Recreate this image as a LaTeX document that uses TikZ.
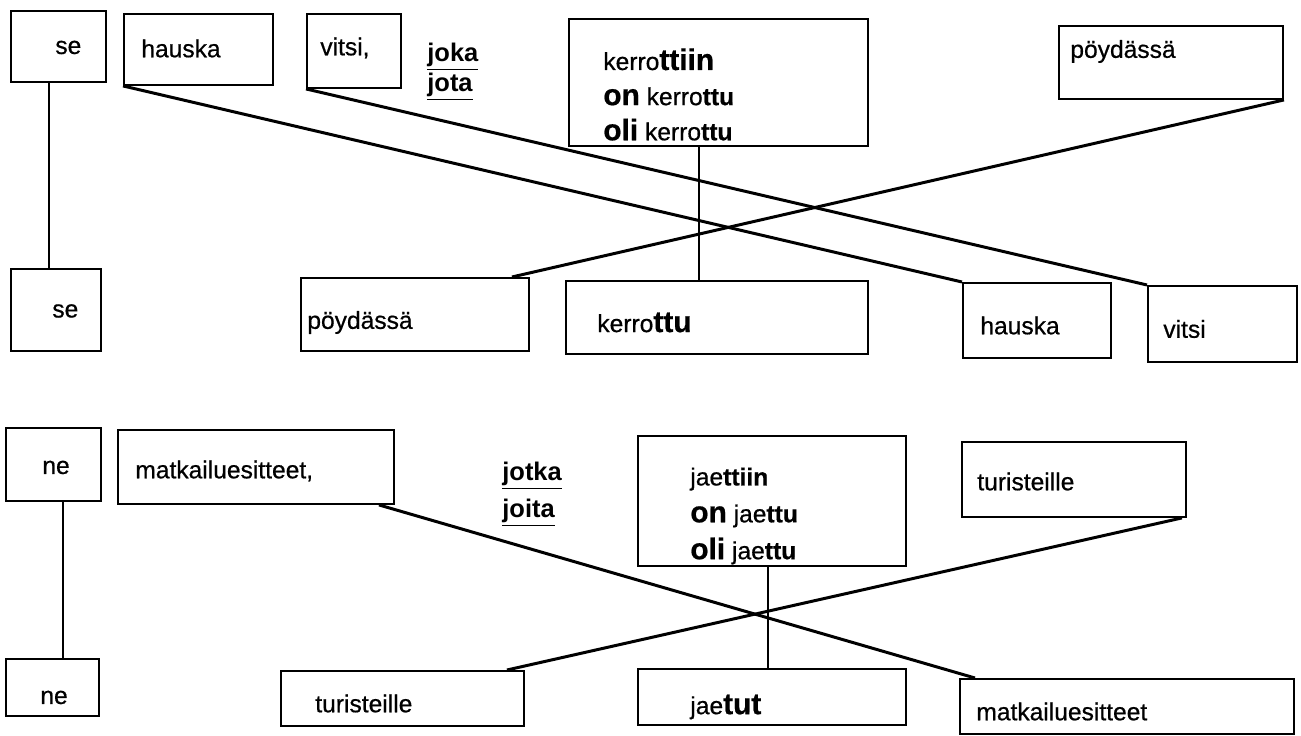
\documentclass[tikz,border=0pt]{standalone}
\usepackage{fontspec}
\setmainfont{Liberation Sans}
\newcommand\bigbold[1]{{\bfseries\fontsize{17}{20}\selectfont #1}}

\begin{document}
\begin{tikzpicture}[
    x=0.02cm,
    y=-0.02cm,
    box/.style={
        draw,
        line width=1.1pt,
        anchor=north west,
        inner sep=0pt
    },
    word/.style={
        anchor=west,
        align=left,
        inner sep=0pt,
        font=\fontsize{14}{20}\selectfont\addfontfeature{FakeBold=0.6}
    },
    pron/.style={
        anchor=west,
        align=left,
        inner sep=0pt,
        font=\fontsize{14.5}{17}\selectfont\bfseries
    },
    link/.style={
        line width=1.7pt
    },
    stem/.style={
        line width=0.9pt
    }
]
    \path[fill=white] (0,0) rectangle (1301,736);

    \foreach \name/\x/\y/\w/\h/\pad/\dy/\txt in {
        seA/10/10/95/71/45/1/se,
        hauskaA/123/13/149/71/18/-1/hauska,
        vitsiA/306/13/94/74/14/-3/{vitsi,},
        kerrA/568/18/299/127/35/12/{kerro\bigbold{ttiin}\\\bigbold{on} kerro\textbf{ttu}\\\bigbold{oli} kerro\textbf{ttu}},
        poydA/1058/25/224/73/12/-11/pöydässä,
        seB/10/268/90/82/42/1/se,
        poydB/300/277/228/73/7/8/pöydässä,
        kerrB/565/280/302/73/32/5/{kerro\bigbold{ttu}},
        hauskaB/962/282/148/75/18/5/hauska,
        vitsiB/1147/285/149/76/16/5/vitsi,
        neA/5/427/95/73/37/3/ne,
        matkA/117/429/276/74/18/4/{matkailuesitteet,},
        jaetA/637/435/268/130/53/15/{jae\textbf{ttiin}\\[1pt]\bigbold{on} jae\textbf{ttu}\\[1pt]\bigbold{oli} jae\textbf{ttu}},
        turA/961/441/224/75/16/2/turisteille,
        neB/5/658/93/57/35/10/ne,
        turB/280/670/243/55/35/5/turisteille,
        jaetB/637/668/268/56/53/10/{jae\bigbold{tut}},
        matkB/959/678/334/55/17/5/matkailuesitteet%
    } {
        \node[box, minimum width=\w*0.02cm, minimum height=\h*0.02cm] (\name) at (\x,\y) {};
        \node[word] (\name-t) at ([xshift=\pad*0.02cm, yshift=-\dy*0.02cm]\name.west) {\txt};
    }

    \node[pron] (jokaA) at (427,72) {\underline{joka}\\[0pt]\underline{jota}};
    \node[pron] (jotkaA) at (502,494) {\underline{jotka}\\[4pt]\underline{joita}};

    % verbs
    \coordinate (seJ) at ([xshift=-0.19cm]seA.south);
    \coordinate (kerrJ) at ([xshift=-0.39cm]kerrA.south);
    \coordinate (neJ) at ([xshift=0.19cm]neA.south);
    \coordinate (jaetJ) at ([xshift=-0.08cm]jaetA.south);
    \foreach \j/\v in {seJ/seB, kerrJ/kerrB, neJ/neB, jaetJ/jaetB} {
        \draw[stem] (\j) -- (\j |- \v.north);
    }

    % moved words
    \draw[link] (hauskaA.south west) -- (hauskaB.north west);
    \draw[link] (vitsiA.south west) -- (vitsiB.north west);
    \draw[link] (poydA.south east) -- ([xshift=-0.36cm]poydB.north east);
    \draw[link] ([xshift=-0.32cm]matkA.south east) -- ([xshift=0.32cm]matkB.north west);
    \draw[link] ([xshift=-0.1cm]turA.south east) -- ([xshift=-0.36cm]turB.north east);

\end{tikzpicture}
\end{document}
